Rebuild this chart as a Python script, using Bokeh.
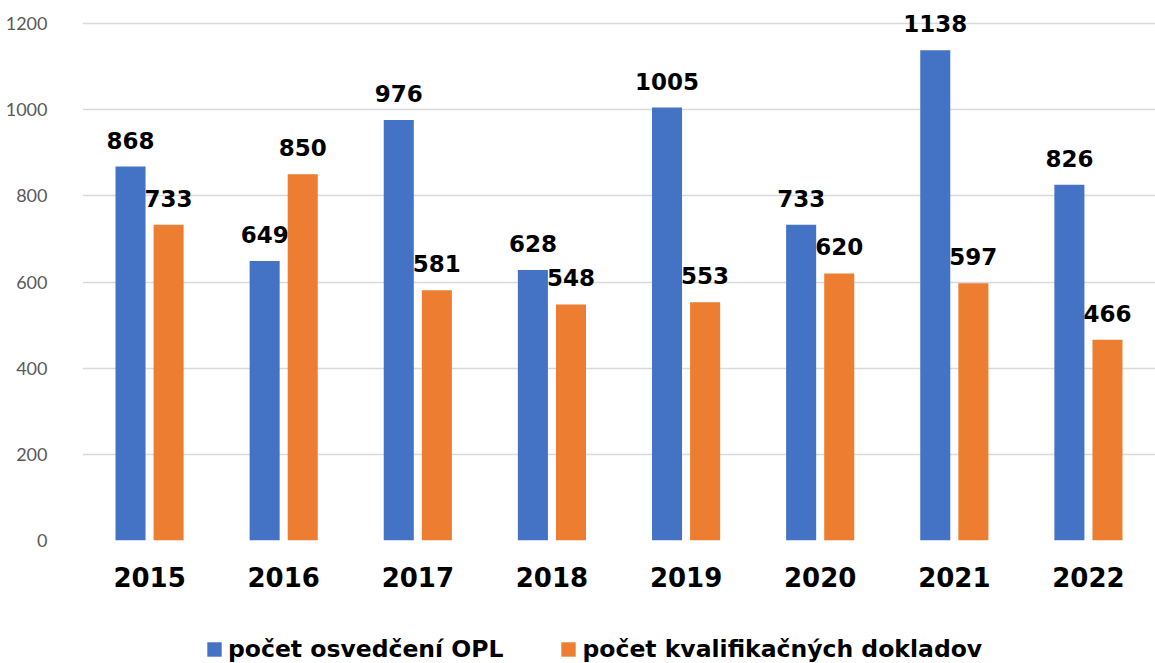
from bokeh.plotting import figure
from bokeh.layouts import column
from bokeh.models import (ColumnDataSource, FactorRange, Range1d, Legend, LegendItem,
                          SingleIntervalTicker)
from bokeh.transform import dodge
from bokeh.core.properties import value
from bokeh.embed import file_html
from bokeh.resources import INLINE

years = ["2015", "2016", "2017", "2018", "2019", "2020", "2021", "2022"]
opl = [868, 649, 976, 628, 1005, 733, 1138, 826]
dokl = [733, 850, 581, 548, 553, 620, 597, 466]
series_names = ["počet osvedčení OPL", "počet kvalifikačných dokladov"]
colors = ["#4472C4", "#ED7D31"]

src = ColumnDataSource(dict(
    year=years, opl=opl, dokl=dokl,
    opl_lbl=[str(v) for v in opl], dokl_lbl=[str(v) for v in dokl],
))

p = figure(x_range=FactorRange(factors=years, range_padding=0),
           y_range=Range1d(0, 1235),
           frame_width=1073, frame_height=532, output_backend="svg", toolbar_location=None,
           min_border_left=82, min_border_right=0, min_border_top=8, min_border_bottom=70)

off = 0.142
bw = 0.224
p.vbar(x=dodge("year", -off, range=p.x_range), top="opl", width=bw, source=src,
       fill_color=colors[0], line_color=None)
p.vbar(x=dodge("year", off, range=p.x_range), top="dokl", width=bw, source=src,
       fill_color=colors[1], line_color=None)

for col, lbl, o in [("opl", "opl_lbl", -off), ("dokl", "dokl_lbl", off)]:
    p.text(x=dodge("year", o, range=p.x_range), y=col, text=lbl, source=src,
           text_align="center", text_baseline="bottom", y_offset=-18,
           text_font=value("DejaVu Sans"), text_font_style="bold",
           text_font_size="23px", text_color="black")

p.outline_line_color = None
p.xgrid.grid_line_color = None
p.ygrid.grid_line_color = "#D9D9D9"
p.ygrid.grid_line_width = 1.5

p.yaxis.ticker = SingleIntervalTicker(interval=200)
p.yaxis.axis_line_color = None
p.yaxis.major_tick_line_color = None
p.yaxis.minor_tick_line_color = None
p.yaxis.major_label_text_font = "Lato"
p.yaxis.major_label_text_font_size = "18px"
p.yaxis.major_label_text_color = "#595959"
p.yaxis.major_label_standoff = 29

p.xaxis.axis_line_color = None
p.xaxis.major_tick_line_color = None
p.xaxis.minor_tick_line_color = None
p.xaxis.major_label_text_font = "DejaVu Sans"
p.xaxis.major_label_text_font_style = "bold"
p.xaxis.major_label_text_font_size = "26px"
p.xaxis.major_label_text_color = "black"
p.xaxis.major_label_standoff = 20

# legend strip
lf = figure(width=1155, height=53, x_range=Range1d(0, 1), y_range=Range1d(0, 1),
            output_backend="svg", toolbar_location=None,
            min_border_left=0, min_border_right=0, min_border_top=0, min_border_bottom=0)
lf.axis.visible = False
lf.grid.visible = False
lf.outline_line_color = None
dummy = ColumnDataSource(dict(x=[-10], top=[0]))
d1 = lf.vbar(x="x", top="top", width=0.1, source=dummy, fill_color=colors[0], line_color=None)
d2 = lf.vbar(x="x", top="top", width=0.1, source=dummy, fill_color=colors[1], line_color=None)
legend = Legend(items=[LegendItem(label=series_names[0], renderers=[d1], index=0),
                       LegendItem(label=series_names[1], renderers=[d2], index=0)],
                orientation="horizontal", location=(123, 0),
                glyph_width=18, glyph_height=18, label_standoff=5, spacing=56,
                label_text_font="DejaVu Sans", label_text_font_style="bold",
                label_text_font_size="23.5px", label_text_color="black",
                border_line_color=None, background_fill_alpha=0,
                padding=0, margin=0)
lf.add_layout(legend, "center")

layout = column(p, lf, spacing=0)
open("out.html", "w").write(file_html(layout, INLINE))
